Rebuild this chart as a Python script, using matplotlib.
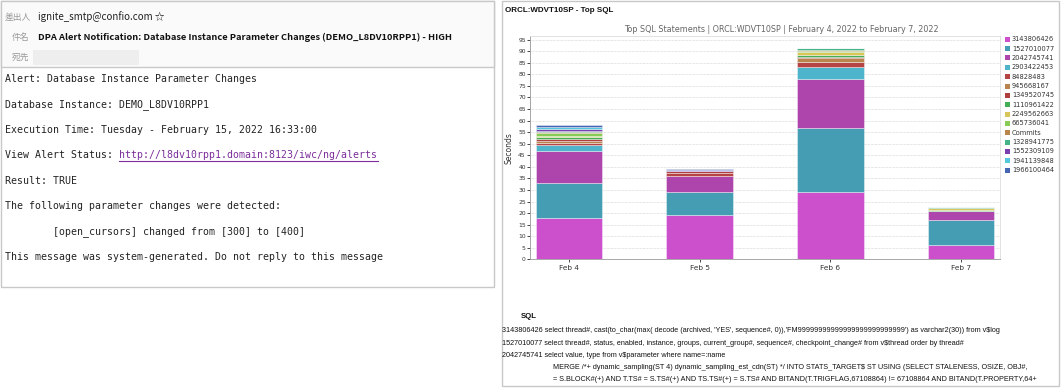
import matplotlib.pyplot as plt
from matplotlib.patches import Rectangle

W, H = 1063, 388

# chart data (seconds per SQL id per day)
DAYS = ["Feb 4", "Feb 5", "Feb 6", "Feb 7"]
SQL_IDS = ["3143806426", "1527010077", "2042745741", "2903422453", "84828483",
           "945668167", "1349520745", "1110961422", "2249562663", "665736041",
           "Commits", "1328941775", "1552309109", "1941139848", "1966100464"]
S_3143806426 = [18.0, 19.0, 29.0, 6.0]
S_1527010077 = [15.0, 10.0, 28.0, 11.0]
S_2042745741 = [14.0, 7.0, 21.0, 4.0]
S_2903422453 = [2.5, 0.0, 5.0, 0.0]
S_84828483 = [1.0, 1.5, 2.5, 0.0]
S_945668167 = [0.8, 0.0, 1.5, 0.0]
S_1349520745 = [0.8, 0.5, 0.5, 0.0]
S_1110961422 = [0.6, 0.0, 1.0, 0.5]
S_2249562663 = [0.5, 0.0, 1.0, 0.7]
S_665736041 = [1.5, 0.0, 0.5, 0.0]
S_COMMITS = [0.5, 0.0, 0.5, 0.0]
S_1328941775 = [0.5, 0.0, 1.0, 0.5]
S_1552309109 = [0.5, 0.5, 0.0, 0.0]
S_1941139848 = [1.0, 0.3, 0.0, 0.0]
S_1966100464 = [0.8, 0.2, 0.0, 0.0]
SERIES = [S_3143806426, S_1527010077, S_2042745741, S_2903422453, S_84828483,
          S_945668167, S_1349520745, S_1110961422, S_2249562663, S_665736041,
          S_COMMITS, S_1328941775, S_1552309109, S_1941139848, S_1966100464]
COLORS = ["#cc50cc", "#449db3", "#ad45ad", "#4db4cc", "#b54545",
          "#b8864c", "#b04040", "#45ad55", "#d8c65a", "#88cc55",
          "#b8864c", "#45b388", "#7a40b0", "#55c8dd", "#4466b3"]

# email text
HDR_LABELS = ["差出人", "件名", "宛先"]
SENDER = "ignite_smtp@confio.com ☆"
SUBJECT = "DPA Alert Notification: Database Instance Parameter Changes (DEMO_L8DV10RPP1) - HIGH"
BODY = [
    "Alert: Database Instance Parameter Changes",
    "Database Instance: DEMO_L8DV10RPP1",
    "Execution Time: Tuesday - February 15, 2022 16:33:00",
    "View Alert Status: ",
    "Result: TRUE",
    "The following parameter changes were detected:",
    "        [open_cursors] changed from [300] to [400]",
    "This message was system-generated. Do not reply to this message",
]
LINK = "http://l8dv10rpp1.domain:8123/iwc/ng/alerts"

# SQL text as far as the panel shows it
SQL_LINES = [
    "3143806426 select thread#, cast(to_char(max( decode (archived, 'YES', sequence#, 0)),"
    "'FM99999999999999999999999999') as varchar2(30)) from v$log",
    "1527010077 select thread#, status, enabled, instance, groups, current_group#, sequence#, "
    "checkpoint_change# from v$thread order by thread#",
    "2042745741 select value, type from v$parameter where name=:name",
]
SQL_MERGE = [
    "MERGE /*+ dynamic_sampling(ST 4) dynamic_sampling_est_cdn(ST) */ INTO STATS_TARGET$ ST USING "
    "(SELECT STALENESS, OSIZE, OBJ#,",
    "= S.BLOCK#(+) AND T.TS# = S.TS#(+) AND TS.TS#(+) = S.TS# AND BITAND(T.TRIGFLAG,67108864) "
    "!= 67108864 AND BITAND(T.PROPERTY,64+",
]

fig = plt.figure(figsize=(W / 100, H / 100), dpi=100)
bg = fig.add_axes([0, 0, 1, 1])
bg.set_xlim(0, W)
bg.set_ylim(H, 0)
bg.axis("off")

JP = ["Noto Sans CJK JP", "DejaVu Sans"]
MONO = "DejaVu Sans Mono"

# ---- email panel
bg.add_patch(Rectangle((1, 1), 493, 286, facecolor="white", edgecolor="#c8c8c8", lw=1))
bg.add_patch(Rectangle((1, 1), 493, 66, facecolor="#fafafa", edgecolor="#c8c8c8", lw=1))
bg.add_patch(Rectangle((33, 50), 106, 15, facecolor="#eeeeee", edgecolor="none"))
for lab, x, y in zip(HDR_LABELS, [5, 12, 12], [17, 37, 57]):
    bg.text(x, y, lab, family=JP, fontsize=6.3, color="#999999", va="center")
bg.text(38, 17, SENDER, family=JP, fontsize=7, color="#222222", va="center")
bg.text(38, 37, SUBJECT, family=JP, fontsize=6.7, fontweight="bold", color="#111111", va="center")

for i, line in enumerate(BODY):
    y = 79 + i * 25.4
    bg.text(5, y, line, family=MONO, fontsize=7.1, color="#222222", va="center")
bg.text(119, 79 + 3 * 25.4, LINK, family=MONO, fontsize=7.1, color="#7b2d9a", va="center")
bg.plot([119, 378], [161, 161], color="#7b2d9a", lw=0.8)

# ---- right panel
bg.add_patch(Rectangle((502, 1), 557, 385, facecolor="white", edgecolor="#c8c8c8", lw=1))
bg.text(505, 10, "ORCL:WDVT10SP - Top SQL", family="Liberation Sans", fontsize=5.8,
        fontweight="bold", color="#111111", va="center")
bg.text(781, 29, "Top SQL Statements | ORCL:WDVT10SP | February 4, 2022 to February 7, 2022",
        fontsize=5.8, color="#666666", ha="center", va="center")

for i, (sid, c) in enumerate(zip(SQL_IDS, COLORS)):
    y = 39.3 + i * 9.34
    bg.add_patch(Rectangle((1005, y - 2.5), 5, 5, facecolor=c, edgecolor="none"))
    bg.text(1012, y, sid, fontsize=4.8, color="#333333", va="center")

bg.text(521, 316, "SQL", family="Liberation Sans", fontsize=5.6, fontweight="bold",
        color="#111111", va="center")
for i, line in enumerate(SQL_LINES):
    bg.text(502.5, 330.7 + i * 12.5, line, family="Liberation Sans", fontsize=5.25,
            color="#111111", va="center", parse_math=False)
for i, line in enumerate(SQL_MERGE):
    bg.text(553, 367.7 + i * 11.5, line, family="Liberation Sans", fontsize=5.25,
            color="#111111", va="center", parse_math=False)

# ---- stacked bar chart
ax = fig.add_axes([530 / W, 1 - 259.3 / H, 470 / W, (259.3 - 36) / H])
xs = range(len(DAYS))
bottom = [0.0] * len(DAYS)
for vals, c in zip(SERIES, COLORS):
    ax.bar(xs, vals, bottom=bottom, width=0.51, color=c, edgecolor=(1, 1, 1, 0.55), lw=0.5)
    bottom = [b + v for b, v in zip(bottom, vals)]
ax.set_xlim(-0.3, 3.3)
ax.set_ylim(0, 96.6)
ax.set_yticks(range(0, 100, 5))
ax.set_xticks(list(xs))
ax.set_xticklabels(DAYS, fontsize=5.3, color="#333333")
ax.tick_params(axis="y", labelsize=4.3, labelcolor="#333333", length=2, width=0.5, pad=1)
ax.tick_params(axis="x", length=2, width=0.5, pad=2)
ax.set_ylabel("Seconds", fontsize=5.5, color="#333333", labelpad=3)
ax.grid(axis="y", color="#cccccc", ls=(0, (1, 1)), lw=0.5)
ax.set_axisbelow(True)
for s in ["top", "right"]:
    ax.spines[s].set_color("#dddddd")
    ax.spines[s].set_linewidth(0.6)
ax.spines["left"].set_color("#999999")
ax.spines["bottom"].set_color("#999999")
ax.spines["left"].set_linewidth(0.6)
ax.spines["bottom"].set_linewidth(0.6)

fig.savefig("out.png", dpi=100)
